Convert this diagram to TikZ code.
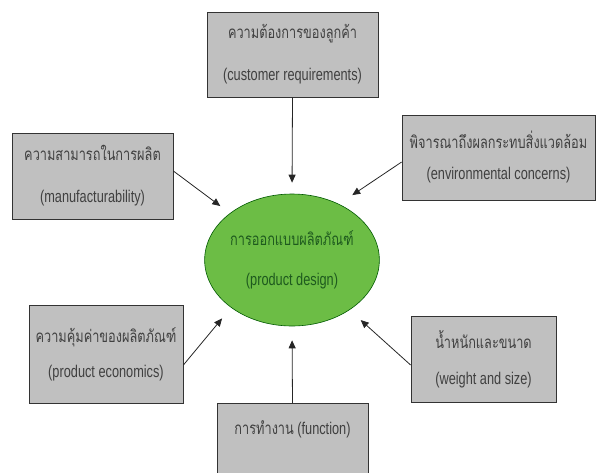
\documentclass[tikz,border=0pt]{standalone}
\usepackage{fontspec}
\setmainfont{Liberation Sans}[FakeStretch=0.75]
\newfontfamily\thaifont[Script=Thai,FakeStretch=0.75]{Loma}
\usepackage{tikz}
\usetikzlibrary{shapes.geometric,arrows.meta}

\definecolor{boxgray}{HTML}{C0C0C0}
\definecolor{designgreen}{HTML}{6CBD45}
\definecolor{textgray}{HTML}{404040}
\definecolor{textgreen}{HTML}{1E5A1E}

\tikzset{
  factor/.style={draw=black!80, fill=boxgray, line width=0.8pt, text=textgray,
    align=center, inner sep=0pt, font=\fontsize{17}{30}\selectfont},
  arr/.style={-{Triangle[length=8pt,width=7pt]}, line width=0.8pt, black!85}
}

\begin{document}
\begin{tikzpicture}[x=1pt,y=-1pt]
            \useasboundingbox (0,0) rectangle (596,472);
            \clip (0,0) rectangle (596,472);
            % Centre
            \node[ellipse, draw=green!35!black, line width=0.6pt, fill=designgreen,
                  minimum width=170pt, minimum height=132pt, inner sep=0pt,
                  text=textgreen, align=center, font=\fontsize{17}{30}\selectfont]
                  (design) at (292,260) {{\thaifont การออกแบบผลิตภัณฑ์}\\[10pt](product design)};
            % Factors
            \node[factor, minimum width=171pt, minimum height=85pt] (req) at (292.5,54.5)
                  {{\thaifont ความต้องการของลูกค้า}\\[12pt](customer requirements)};
            \node[factor, minimum width=161pt, minimum height=86pt] (manu) at (92.5,176)
                  {{\thaifont ความสามารถในการผลิต}\\[12pt](manufacturability)};
            \node[factor, minimum width=193pt, minimum height=85pt] (env) at (498.5,157.5)
                  {{\thaifont พิจารณาถึงผลกระทบสิ่งแวดล้อม}\\[1pt](environmental concerns)};
            \node[factor, minimum width=154pt, minimum height=98pt] (econ) at (106,354)
                  {{\thaifont ความคุ้มค่าของผลิตภัณฑ์}\\[5pt](product economics)};
            \node[factor, minimum width=145pt, minimum height=86pt] (weight) at (483.5,359)
                  {{\thaifont น้ำหนักและขนาด}\\[6pt](weight and size)};
            \node[factor, minimum width=151pt, anchor=north, text height=31pt, text depth=67pt]
                  (func) at (292.5,403) {{\thaifont การทำงาน} (function)};
            % Arrows
            \draw[arr, shorten >=11pt] (req.south) -- (design.north);
            \draw[arr, shorten >=12pt] ([yshift=5pt]manu.east) -- (design.143);
            \draw[arr, shorten >=16pt] ([yshift=-4.5pt]env.west) -- (design.50);
            \draw[arr, shorten >=14pt] ([yshift=-11pt]econ.east) -- (design.218);
            \draw[arr, shorten >=15pt] ([yshift=-6pt]weight.west) -- (design.-41);
            \draw[arr, shorten >=14pt] (func.north) -- (design.south);
        \end{tikzpicture}
\end{document}
